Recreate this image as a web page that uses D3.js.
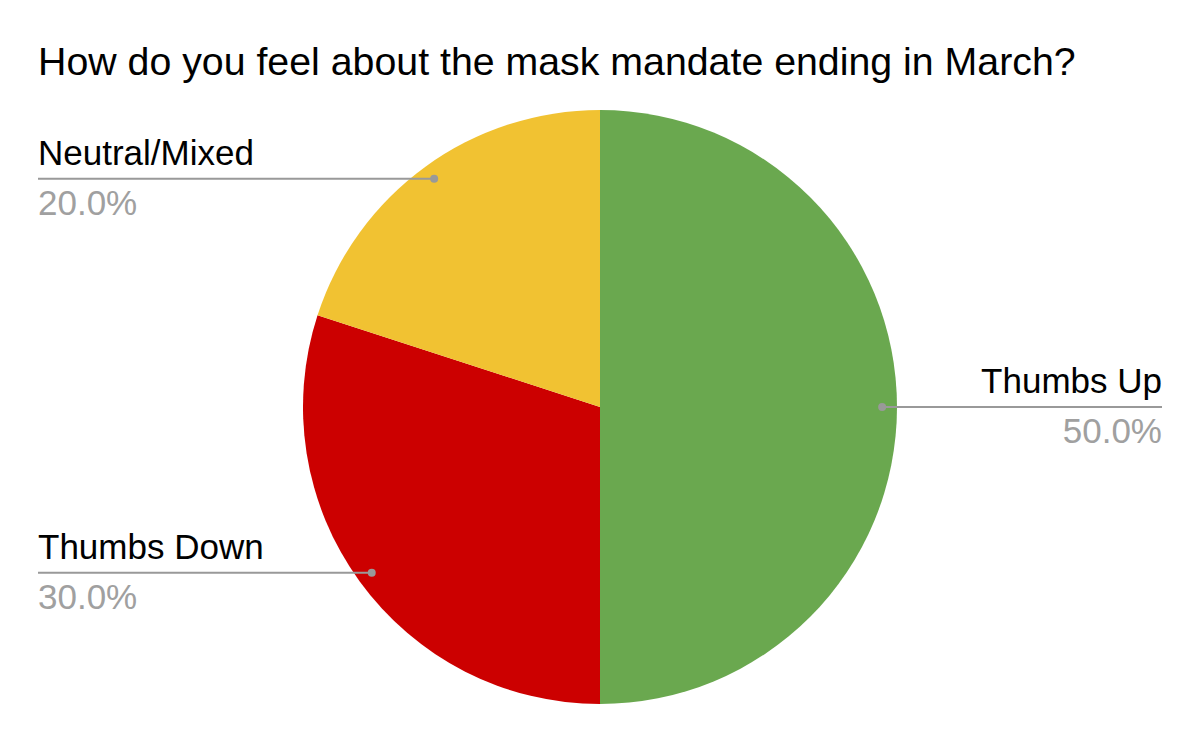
<!DOCTYPE html>
<html>
<head>
<meta charset="utf-8">
<script src="https://cdn.jsdelivr.net/npm/d3@7"></script>
<style>
  body { margin: 0; background: #fff; }
  text { font-family: Arial, "Liberation Sans", sans-serif; }
</style>
</head>
<body>
<svg id="chart" width="1200" height="742"></svg>
<script>
const title = "How do you feel about the mask mandate ending in March?";
const categories = ["Thumbs Up", "Thumbs Down", "Neutral/Mixed"];
const values = [50, 30, 20];
const colors = ["#6aa84f", "#cc0000", "#f1c232"];

const width = 1200, height = 742;
const cx = 600, cy = 407, radius = 297;

const svg = d3.select("#chart");

svg.append("text")
  .attr("x", 38)
  .attr("y", 75)
  .attr("font-size", 39.3)
  .attr("fill", "#000")
  .text(title);

const data = categories.map((c, i) => ({ name: c, value: values[i], color: colors[i] }));
const total = d3.sum(values);

const pie = d3.pie().value(d => d.value).sort(null);
const arcs = pie(data);

const arc = d3.arc().innerRadius(0).outerRadius(radius);
const dotArc = d3.arc().innerRadius(radius * 0.95).outerRadius(radius * 0.95);

const g = svg.append("g").attr("transform", `translate(${cx},${cy})`);

g.selectAll("path")
  .data(arcs)
  .join("path")
    .attr("d", arc)
    .attr("fill", d => d.data.color);

// labels with leader lines
const labels = svg.append("g");
arcs.forEach(d => {
  const [dx, dy] = dotArc.centroid(d);
  const px = cx + dx, py = cy + dy;
  const right = px > cx;
  const endX = right ? 1162 : 38;

  labels.append("line")
    .attr("x1", px).attr("y1", py)
    .attr("x2", endX).attr("y2", py)
    .attr("stroke", "#999")
    .attr("stroke-width", 2);

  labels.append("circle")
    .attr("cx", px).attr("cy", py)
    .attr("r", 4)
    .attr("fill", "#999");

  labels.append("text")
    .attr("x", endX)
    .attr("y", py - 14)
    .attr("text-anchor", right ? "end" : "start")
    .attr("font-size", 35)
    .attr("fill", "#000")
    .text(d.data.name);

  labels.append("text")
    .attr("x", endX)
    .attr("y", py + 36)
    .attr("text-anchor", right ? "end" : "start")
    .attr("font-size", 35)
    .attr("fill", "#a0a0a0")
    .text(d3.format(".1f")(d.data.value / total * 100) + "%");
});
</script>
</body>
</html>
